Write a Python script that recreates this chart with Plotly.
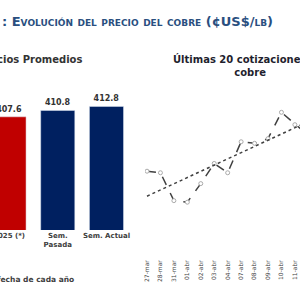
import plotly.graph_objects as go
import numpy as np

# ---- data ----
bar_categories = ["2025 (*)", "Sem.<br>Pasada", "Sem. Actual"]
bar_values = [407.6, 410.8, 412.8]
bar_colors = ["#C00000", "#002060", "#002060"]

dates = ["27-mar", "28-mar", "31-mar", "01-abr", "02-abr", "03-abr", "04-abr",
         "07-abr", "08-abr", "09-abr", "10-abr", "11-abr", "14-abr", "15-abr",
         "16-abr", "17-abr", "22-abr", "23-abr", "24-abr", "25-abr"]
prices = [407.6, 407.5, 405.7, 405.6, 406.8, 408.1, 407.5, 409.5, 409.4, 409.7,
          411.4, 410.6, 409.9, 410.6, 411.9, 411.4, 412.6, 412.4, 413.9, 413.9]

idx = list(range(len(prices)))
bar_pos = list(range(len(bar_values)))
slope, intercept = np.polyfit(idx, prices, 1)
trend = [intercept + slope * i for i in idx]

FONT = "DejaVu Sans"
TXT = "#333333"

fig = go.Figure()

fig.add_trace(go.Bar(
    x=bar_pos, y=bar_values, marker_color=bar_colors,
    texttemplate="%{y:.1f}", textposition="outside", cliponaxis=False,
    textfont=dict(family=FONT, size=8, color=TXT, weight="bold"),
    xaxis="x", yaxis="y", width=0.7,
))

fig.add_trace(go.Scatter(
    x=idx, y=prices, mode="lines+markers",
    line=dict(color="#404040", width=1.5, dash="dash"),
    marker=dict(size=4, color="white", line=dict(color="#aaaaaa", width=1)),
    xaxis="x2", yaxis="y2",
))
fig.add_trace(go.Scatter(
    x=idx, y=trend, mode="lines",
    line=dict(color="#404040", width=1.5, dash="dot"),
    xaxis="x2", yaxis="y2",
))

fig.update_layout(
    width=300, height=300, margin=dict(l=0, r=0, t=0, b=0, autoexpand=False),
    paper_bgcolor="white", plot_bgcolor="white", showlegend=False,
    xaxis=dict(domain=[0, 0.467], range=[-0.185, 2.69], autorange=False,
               automargin=False,
               tickmode="array", tickvals=bar_pos, ticktext=bar_categories,
               ticklabeloverflow="allow",
               showline=False, showgrid=False, zeroline=False, ticks="",
               tickfont=dict(family=FONT, size=7, color="#404040", weight="bold")),
    yaxis=dict(domain=[1 - 230 / 300, 0.7], range=[351, 421], visible=False,
               automargin=False),
    xaxis2=dict(domain=[145 / 300, 1], range=[-0.149, 11.38], anchor="y2",
                automargin=False,
                tickmode="array", tickvals=idx, ticktext=dates, tickangle=-90,
                ticklabeloverflow="allow",
                showline=False, showgrid=False, zeroline=False, ticks="",
                tickfont=dict(family=FONT, size=6, color="#444444")),
    yaxis2=dict(domain=[1 - 258 / 300, 0.7], range=[402.0, 412.839],
                visible=False, anchor="x2", automargin=False),
)

fig.add_annotation(
    text=": Evolución del precio del cobre (¢US$/lb)",
    xref="paper", yref="paper", x=0, y=1 - 21 / 300,
    xanchor="left", yanchor="middle", showarrow=False,
    font=dict(family=FONT, size=13, color="#2a4f7f", weight="bold", variant="small-caps"),
)
fig.add_annotation(
    text="Precios Promedios", xref="paper", yref="paper",
    x=84 / 300, y=1 - 59 / 300, xanchor="right", yanchor="middle", showarrow=False,
    font=dict(family=FONT, size=10, color=TXT, weight="bold"),
)
fig.add_annotation(
    text="Últimas 20 cotizaciones del<br>cobre", xref="paper", yref="paper",
    x=250 / 300, y=1 - 65.5 / 300, xanchor="center", yanchor="middle",
    align="center", showarrow=False,
    font=dict(family=FONT, size=10, color="#1f1f2e", weight="bold"),
)
fig.add_annotation(
    text="(*) Promedio a la fecha de cada año", xref="paper", yref="paper",
    x=76 / 300, y=1 - 279 / 300, xanchor="right", yanchor="middle", showarrow=False,
    font=dict(family=FONT, size=7.5, color="#404040", weight="bold"),
)

fig.write_html("out.html")
